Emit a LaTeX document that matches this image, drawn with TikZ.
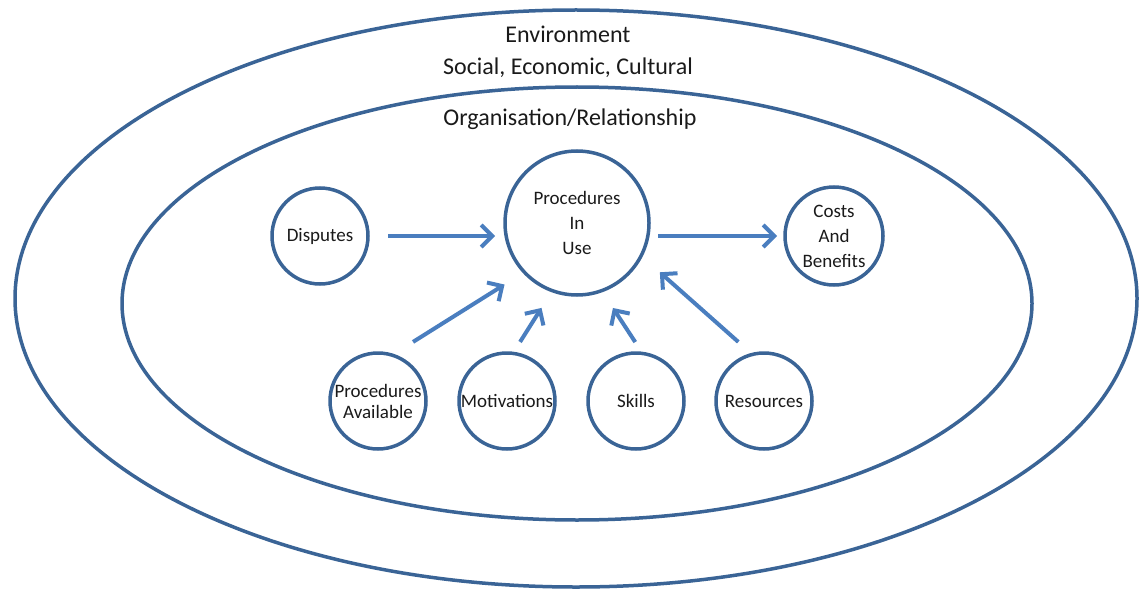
\documentclass[tikz,border=0pt]{standalone}
\usepackage{fontspec}
\setmainfont{Carlito}
\usetikzlibrary{arrows.meta}
\definecolor{ringblue}{HTML}{3A6496}
\definecolor{arrowblue}{HTML}{4A7EBF}
\definecolor{txtgray}{HTML}{1A1A1A}

\begin{document}
\begin{tikzpicture}[x=1pt, y=-1pt,
  ring/.style={draw=ringblue, line width=3.5pt},
  toptext/.style={anchor=base, text=txtgray, font=\fontsize{24}{28}\selectfont},
  blob/.style={circle, draw=ringblue, line width=3.5pt, minimum size=96pt,
    inner sep=0pt, outer sep=0pt, align=center, text=txtgray,
    font=\fontsize{19}{25}\selectfont},
  arr/.style={draw=arrowblue, line width=4pt,
    -{Straight Barb[length=11pt, width=22pt]}}]
  \useasboundingbox (0,0) rectangle (1140,591);
  \draw[ring] (576,298.5) ellipse [x radius=561, y radius=288.5];
  \draw[ring] (577,303.5) ellipse [x radius=455, y radius=216.5];
  \node[toptext] (t0) at (568,43) {Environment};
  \node[toptext] (t1) at (568,75) {Social, Economic, Cultural};
  \node[toptext] (t2) at (570,125) {Organisation/Relationship};
  \node[blob] (c0) at (320,236) {Disputes};
  \node[blob, minimum size=144pt] (c1) at (577,223) {Procedures\\In\\Use};
  \node[blob, minimum size=98pt] (c2) at (834,236) {Costs\\And\\Benefits};
  \node[blob, font=\fontsize{19}{21}\selectfont] (c3) at (378,401) {Procedures\\Available};
  \node[blob] (c4) at (507,401) {Motivations};
  \node[blob] (c5) at (636,401) {Skills};
  \node[blob] (c6) at (764,401) {Resources};
  \draw[arr, shorten <=20pt, shorten >=10pt] (c0.east) -- (c0.east -| c1.west);
  \draw[arr, shorten <=9pt, shorten >=8pt] (c1.east |- c2.west) -- (c2.west);
  \draw[arr, shorten <=24.8pt, shorten >=23.4pt] (c3.73) -- (c1.223.6);
  \draw[arr, shorten <=13.5pt, shorten >=20.4pt] (c4.83.2) -- (c1.250.6);
  \draw[arr, shorten <=13.6pt, shorten >=20.7pt] (c5.82.3) -- (c1.290.1);
  \draw[arr, shorten <=18.8pt, shorten >=25pt] (c6.104.5) -- (c1.333.4);
\end{tikzpicture}
\end{document}
